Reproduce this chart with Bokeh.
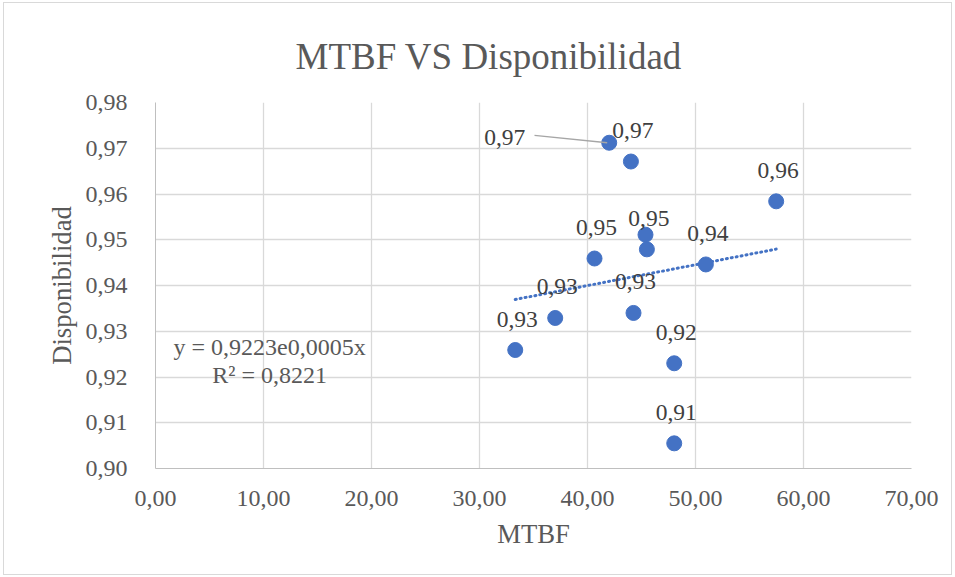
import numpy as np
from bokeh.plotting import figure
from bokeh.models import ColumnDataSource, FixedTicker, Label, Range1d
from bokeh.core.properties import value
from bokeh.embed import file_html
from bokeh.resources import INLINE

# ---------------- data ----------------
mtbf = [42.01, 44.02, 57.47, 45.37, 45.50, 40.65, 50.96, 37.01, 44.26, 33.31, 48.03, 48.03]
disponibilidad = [0.9712, 0.9671, 0.9584, 0.9511, 0.9479, 0.9459, 0.9446, 0.9329, 0.9340, 0.9259, 0.9230, 0.9055]
label_shown = [True, True, True, False, True, True, True, True, True, True, True, True]

x_ticks = [0, 10, 20, 30, 40, 50, 60, 70]
x_tick_labels = ["0,00", "10,00", "20,00", "30,00", "40,00", "50,00", "60,00", "70,00"]
y_ticks = [0.90, 0.91, 0.92, 0.93, 0.94, 0.95, 0.96, 0.97, 0.98]
y_tick_labels = ["0,90", "0,91", "0,92", "0,93", "0,94", "0,95", "0,96", "0,97", "0,98"]

trend_a = 0.9220
trend_b = 0.000483
equation_text = "y = 0,9223e0,0005x"
r2_text = "R² = 0,8221"
title_text = "MTBF VS Disponibilidad"
x_title = "MTBF"
y_title = "Disponibilidad"

# ---------------- styling ----------------
FONT = "Liberation Serif"
TXT = "#595959"
LBL = "#404040"
BLUE = "#4472C4"
GRID = "#D9D9D9"

FW, FH = 756, 366
x0, x1 = 0, 70
y0, y1 = 0.90, 0.98
px_x = FW / (x1 - x0)
px_y = FH / (y1 - y0)

p = figure(frame_width=FW, frame_height=FH,
           min_border_left=151, min_border_right=40,
           min_border_top=99, min_border_bottom=106,
           x_range=Range1d(x0, x1), y_range=Range1d(y0, y1),
           output_backend="svg", toolbar_location=None,
           background_fill_color="white", border_fill_color="white")
p.styles = {"border": "1px solid #D9D9D9", "margin": "2px 0px 0px 3px"}
p.outline_line_color = None

p.title.text = title_text
p.title.text_font = FONT
p.title.text_font_size = "37px"
p.title.text_font_style = "normal"
p.title.text_color = TXT
p.title.align = "left"
p.title.offset = 140
p.title.vertical_align = "top"
p.title.standoff = 48

for ax in (p.xaxis[0], p.yaxis[0]):
    ax.major_tick_in = 0
    ax.major_tick_out = 0
    ax.minor_tick_in = 0
    ax.minor_tick_out = 0
    ax.axis_line_color = "#BFBFBF"
    ax.major_label_text_font = FONT
    ax.major_label_text_font_size = "24px"
    ax.major_label_text_color = TXT
    ax.axis_label_text_font = FONT
    ax.axis_label_text_font_size = "26.7px"
    ax.axis_label_text_font_style = "normal"
    ax.axis_label_text_color = TXT

p.xaxis.ticker = FixedTicker(ticks=x_ticks)
p.yaxis.ticker = FixedTicker(ticks=y_ticks)
p.xaxis.major_label_overrides = dict(zip(x_ticks, x_tick_labels))
p.yaxis.major_label_overrides = dict(zip(y_ticks, y_tick_labels))
p.xaxis.axis_label = x_title
p.yaxis.axis_label = y_title
p.xaxis.major_label_standoff = 22
p.yaxis.major_label_standoff = 28
p.xaxis.axis_label_standoff = 10
p.yaxis.axis_label_standoff = 6

p.xgrid.grid_line_color = GRID
p.ygrid.grid_line_color = GRID
p.xgrid.grid_line_width = 1.3
p.ygrid.grid_line_width = 1.3

# trendline (exponential)
tx = np.linspace(min(mtbf), max(mtbf), 60)
ty = trend_a * np.exp(trend_b * tx)
p.line(tx, ty, line_color=BLUE, line_width=3, line_dash="1 4", line_cap="round")

# points
p.scatter(mtbf, disponibilidad, size=15, color=BLUE, line_color=BLUE)

# data labels
lab_x, lab_y, lab_t, lab_dx, lab_dy = [], [], [], [], []
for i, (xv, yv, show) in enumerate(zip(mtbf, disponibilidad, label_shown)):
    if not show:
        continue
    lab_x.append(xv)
    lab_y.append(yv)
    lab_t.append(f"{yv:.2f}".replace(".", ","))
    if i == 0:
        lab_dx.append(-104.5)
        lab_dy.append(-5)
    else:
        lab_dx.append(2)
        lab_dy.append(-31)
src = ColumnDataSource(dict(x=lab_x, y=lab_y, t=lab_t, dx=lab_dx, dy=lab_dy))
p.text(x="x", y="y", text="t", x_offset="dx", y_offset="dy", source=src,
       text_font=value(FONT), text_font_size="23.5px", text_color=LBL,
       text_align="center", text_baseline="middle")

# leader line for the moved label of the first point
p.segment(x0=[mtbf[0] - 74.7 / px_x], y0=[disponibilidad[0] + 7.3 / px_y],
          x1=[mtbf[0] - 2 / px_x], y1=[disponibilidad[0]],
          line_color="#A6A6A6", line_width=1.3)

# trendline equation
p.add_layout(Label(x=10.57, y=0.9266, text=equation_text, text_font=FONT,
                   text_font_size="24px", text_color=TXT,
                   text_align="center", text_baseline="middle"))
p.add_layout(Label(x=10.57, y=0.9205, text=r2_text, text_font=FONT,
                   text_font_size="24px", text_color=TXT,
                   text_align="center", text_baseline="middle"))

open("out.html", "w").write(file_html(p, INLINE))
